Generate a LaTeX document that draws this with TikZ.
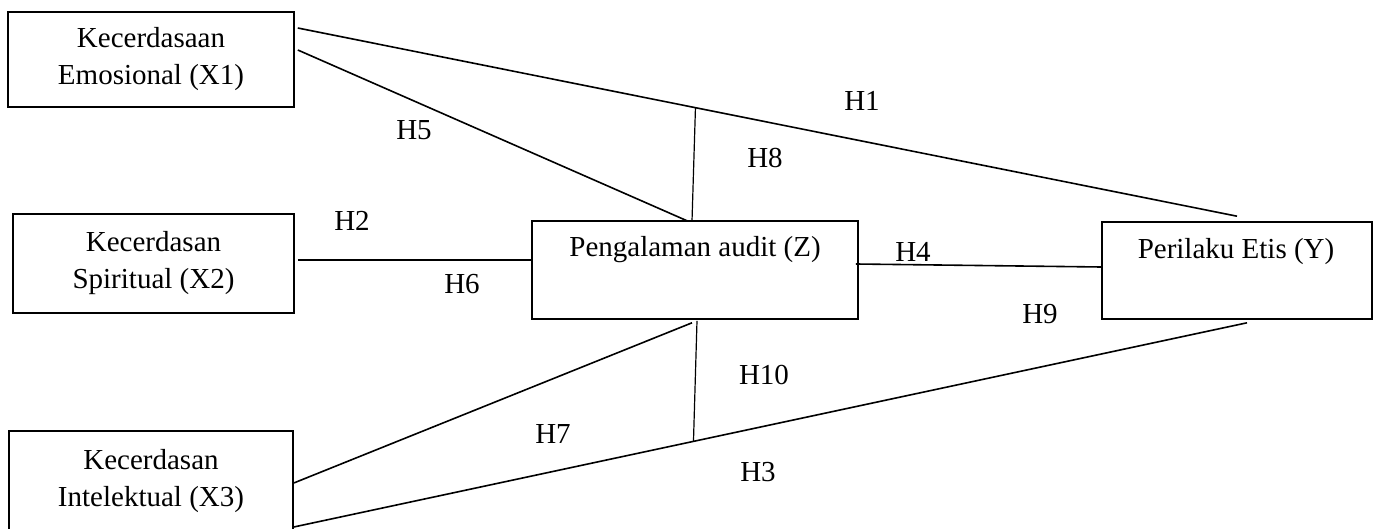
\documentclass[tikz,border=0pt]{standalone}
\usepackage{fontspec}
\setmainfont{Liberation Serif}
\usetikzlibrary{calc}
\begin{document}
\begin{tikzpicture}[x=1pt,y=-1pt,
  box/.style={draw,line width=1.6pt,inner sep=0pt,align=center,font=\fontsize{29}{37}\selectfont},
  conn/.style={line width=1.6pt},
  thin conn/.style={line width=1.2pt},
  lbl/.style={inner sep=0pt,font=\fontsize{29}{34}\selectfont}]
\useasboundingbox (0,0) rectangle (1374,529);
% boxes
\node[box,minimum width=286pt,minimum height=95pt] (x1) at (151,59.5) {Kecerdasaan\\Emosional (X1)};
\node[box,minimum width=281pt,minimum height=99pt] (x2) at (153.5,263.5) {Kecerdasan\\Spiritual (X2)};
\node[box,minimum width=284pt,minimum height=100pt] (x3) at (151,481) {Kecerdasan\\Intelektual (X3)};
\node[box,minimum width=326pt,minimum height=98pt] (z) at (695,270) {};
\node[lbl] (zt) at (695,250) {Pengalaman audit (Z)};
\node[box,minimum width=270pt,minimum height=97pt] (y) at (1237,270.5) {};
\node[lbl] (yt) at (1236,252) {Perilaku Etis (Y)};
% connectors
\coordinate (a1) at ([xshift=3pt,yshift=31.5pt]x1.east);
\coordinate (b1) at ([yshift=5pt]y.north);
\draw[conn] (a1) -- (b1);
\coordinate (m1) at ($(a1)!0.4234!(b1)$);
\draw[conn] ([xshift=3pt,yshift=9.5pt]x1.east) -- ([xshift=-7pt,yshift=-1pt]z.north);
\draw[thin conn] (m1) -- ([xshift=-3pt,yshift=-1pt]z.north);
\draw[conn] ([xshift=3pt,yshift=3.5pt]x2.east) -- ([xshift=1pt,yshift=10pt]z.west);
\draw[conn] ([xshift=-3pt,yshift=6pt]z.east) -- ([yshift=3.5pt]y.west);
\draw[conn] ([yshift=-2pt]x3.east) -- ([xshift=-3pt,yshift=-3pt]z.south);
\coordinate (a3) at ([yshift=-46pt]x3.east);
\coordinate (b3) at ([xshift=10pt,yshift=-3pt]y.south);
\draw[conn] (a3) -- (b3);
\coordinate (m2) at ($(a3)!0.4193!(b3)$);
\draw[thin conn] ([xshift=2pt,yshift=-1pt]z.south) -- (m2);
% labels
\node[lbl] (h1) at (862,101) {H1};
\node[lbl] (h8) at (765,158) {H8};
\node[lbl] (h5) at (414,130) {H5};
\node[lbl] (h2) at (352,221) {H2};
\node[lbl] (h6) at (462,284) {H6};
\node[lbl] (h4) at (913,252) {H4};
\node[lbl] (h9) at (1040,314) {H9};
\node[lbl] (h10) at (764,375) {H10};
\node[lbl] (h7) at (553,434) {H7};
\node[lbl] (h3) at (758,472) {H3};
\end{tikzpicture}
\end{document}
